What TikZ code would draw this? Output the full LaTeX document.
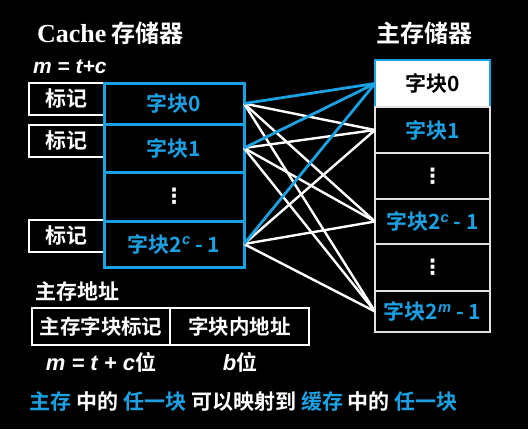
\documentclass[tikz,border=0pt]{standalone}
\usepackage{fontspec}
\setmainfont{Noto Sans CJK SC}[BoldFont={Noto Sans CJK SC Bold}]
\newfontfamily\latinfont{Liberation Sans}
\newfontfamily\seriffont{Liberation Serif}
\newfontfamily\dotsfont{DejaVu Sans}
\definecolor{cacheblue}{RGB}{27,161,226}
\definecolor{rowline}{RGB}{225,225,225}

\begin{document}
\begin{tikzpicture}[x=1pt, y=-1pt,
    every node/.style={font=\bfseries, text=white, inner sep=0pt, outer sep=0pt},
    cacheblk/.style={draw=cacheblue, line width=3pt, minimum width=140pt,
        text=cacheblue, font=\bfseries\fontsize{21}{21}\selectfont},
    tagbox/.style={draw=white, line width=2pt, minimum width=75pt, minimum height=32pt,
        font=\bfseries\fontsize{21}{21}\selectfont},
    mainblk/.style={draw=rowline, line width=1.8pt, minimum width=115pt,
        text=cacheblue, font=\bfseries\fontsize{21}{21}\selectfont},
    addrbox/.style={draw=white, line width=2pt, minimum height=37pt,
        font=\bfseries\fontsize{20.5}{20.5}\selectfont},
    link/.style={white, line width=2.4pt},
    label/.style={font=\bfseries\fontsize{21}{21}\selectfont}
]
    % background and frame
        \fill[black] (0,0) rectangle (528,429);
        \useasboundingbox (0,0) rectangle (528,429);

    % titles
        \node[anchor=west, font=\fontsize{24}{24}\selectfont\bfseries] (ctitle) at (37,33)
            {{\seriffont\fontsize{26}{26}\selectfont Cache} 存储器};
        \node[font=\fontsize{24}{24}\selectfont\bfseries] (mtitle) at (424,33) {主存储器};
        \node[anchor=west, font=\latinfont\bfseries\itshape\fontsize{21}{21}\selectfont] (mtc) at (33,67)
            {m = t+c};

    % tag boxes
        \node[tagbox] (t0) at (66.5,99) {标记};
        \node[tagbox] (t1) at (66.5,141) {标记};
        \node[tagbox] (t2) at (66.5,236) {标记};

    % cache blocks
        \node[cacheblk, minimum height=41pt] (c0) at (174,103.5) {字块0};
        \node[cacheblk, minimum height=48pt] (c1) at (174,148) {字块1};
        \node[cacheblk, minimum height=49pt, text=white] (cd) at (174,196.5) {\dotsfont ⋮};
        \node[cacheblk, minimum height=46pt] (cl) at (174,244)
            {字块2\textsuperscript{\latinfont\itshape c} - 1};

    % main memory blocks
        \node[mainblk, draw=cacheblue, line width=2.5pt, fill=white, text=black, minimum height=47pt] (m0) at (432.5,83.5) {字块0};
        \node[mainblk, minimum height=46pt] (m1) at (432.5,130) {字块1};
        \node[mainblk, minimum height=46pt, text=white] (md1) at (432.5,176) {\dotsfont ⋮};
        \node[mainblk, minimum height=45pt] (mc) at (432.5,221.5)
            {字块2\textsuperscript{\latinfont\itshape c} - 1};
        \node[mainblk, minimum height=47pt, text=white] (md2) at (432.5,267.5) {\dotsfont ⋮};
        \node[mainblk, minimum height=41pt] (mm) at (432.5,311.5)
            {字块2\textsuperscript{\latinfont\itshape m} - 1};

    % mapping lines
        \foreach \c in {c0,c1,cl} {
            \foreach \m in {m1,mc,mm}
                \draw[link] (\c.east) -- (\m.west);
        }
        \foreach \c in {c0,c1,cl}
            \draw[link, cacheblue, line width=2.8pt] (\c.east) -- (m0.west);

    % main memory address
        \node[label, anchor=west] (addr) at (35,292) {主存地址};
        \node[addrbox, minimum width=138pt] (atag) at (101,326.5) {主存字块标记};
        \node[addrbox, minimum width=139pt] (aoff) at (239.5,326.5) {字块内地址};
        \node[label] (abits) at (101,362)
            {{\latinfont\itshape\fontsize{22}{22}\selectfont m = t + c}位};
        \node[label] (bbits) at (240,362) {{\latinfont\itshape\fontsize{22}{22}\selectfont b}位};

    % note
        \node[label, anchor=west] (note) at (30,402)
            {\textcolor{cacheblue}{主存} 中的 \textcolor{cacheblue}{任一块} 可以映射到 \textcolor{cacheblue}{缓存} 中的 \textcolor{cacheblue}{任一块}};
\end{tikzpicture}
\end{document}
